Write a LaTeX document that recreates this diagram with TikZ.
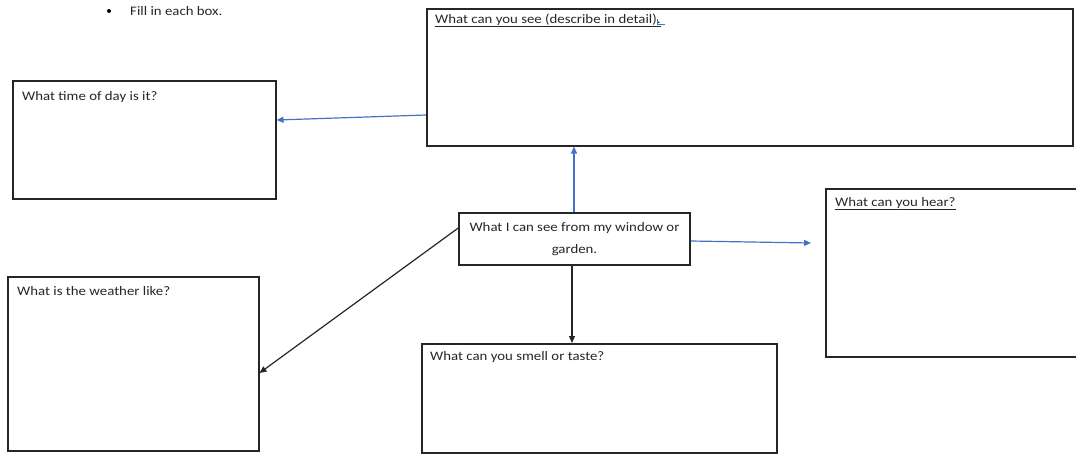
\documentclass[tikz,border=0pt]{standalone}
\usepackage{fontspec}
\setmainfont{Carlito}[FakeStretch=1.14]
\usetikzlibrary{arrows.meta}
\definecolor{wdblue}{HTML}{4472C4}
\definecolor{txtgray}{HTML}{262626}
\tikzset{
  box/.style={draw=black!85, line width=1.5pt, rectangle, anchor=north west, inner sep=0pt},
  lbl/.style={anchor=base west, inner sep=0pt, text=txtgray, font=\fontsize{13}{15}\selectfont},
  blu/.style={draw=wdblue, line width=1.2pt, -{Triangle[length=7pt,width=6pt]}},
  blk/.style={draw=black!85, line width=1.2pt, -{Triangle[length=7pt,width=6pt]}},
}
\begin{document}
\begin{tikzpicture}[x=1pt,y=-1pt]
\useasboundingbox (0,0) rectangle (1076,453);
% instruction
\node[circle, fill=black, inner sep=0pt, minimum size=4pt] (bul) at (109,11) {};
\node[lbl] (fill) at (130,15) {Fill in each box.};
% boxes
\node[box, minimum width=646pt, minimum height=137pt] (see) at (426,8) {};
\node[lbl] (seet) at (435,23) {\underline{What can you see (describe in detail).}};
\draw[wdblue, line width=0.8pt] (seet.base east) ++(-3,-4) -- ++(0,5) -- ++(7,0);
\node[box, minimum width=263pt, minimum height=118pt] (time) at (12,80) {};
\node[lbl] (timet) at (22,100) {What time of day is it?};
\node[box, minimum width=231pt, minimum height=52pt, anchor=center] (ctr) at (574.5,239) {};
\node[lbl, anchor=base] (ctrt1) at (574.5,231) {What I can see from my window or};
\node[lbl, anchor=base] (ctrt2) at (574.5,253) {garden.};
\node[box, minimum width=270pt, minimum height=168pt] (hear) at (825,188) {};
\node[lbl] (heart) at (835,206) {\underline{What can you hear?}};
\node[box, minimum width=251pt, minimum height=174pt] (wea) at (7,276) {};
\node[lbl] (weat) at (17,295) {What is the weather like?};
\node[box, minimum width=355pt, minimum height=109pt] (sme) at (421,343) {};
\node[lbl] (smet) at (430,360) {What can you smell or taste?};
\coordinate (hearin) at (811,243);
% connectors
\draw[blu] (see.west |- 0,115) -- (time.east |- 0,120);
\draw[blu] (ctr.north -| 574,0) -- (see.south -| 574,0);
\draw[blu] (ctr.east |- 0,241) -- (hearin);
\draw[blk] (ctr.west |- 0,228) -- (wea.east |- 0,373);
\draw[blk] (ctr.south -| 572,0) -- (sme.north -| 572,0);
\end{tikzpicture}
\end{document}
